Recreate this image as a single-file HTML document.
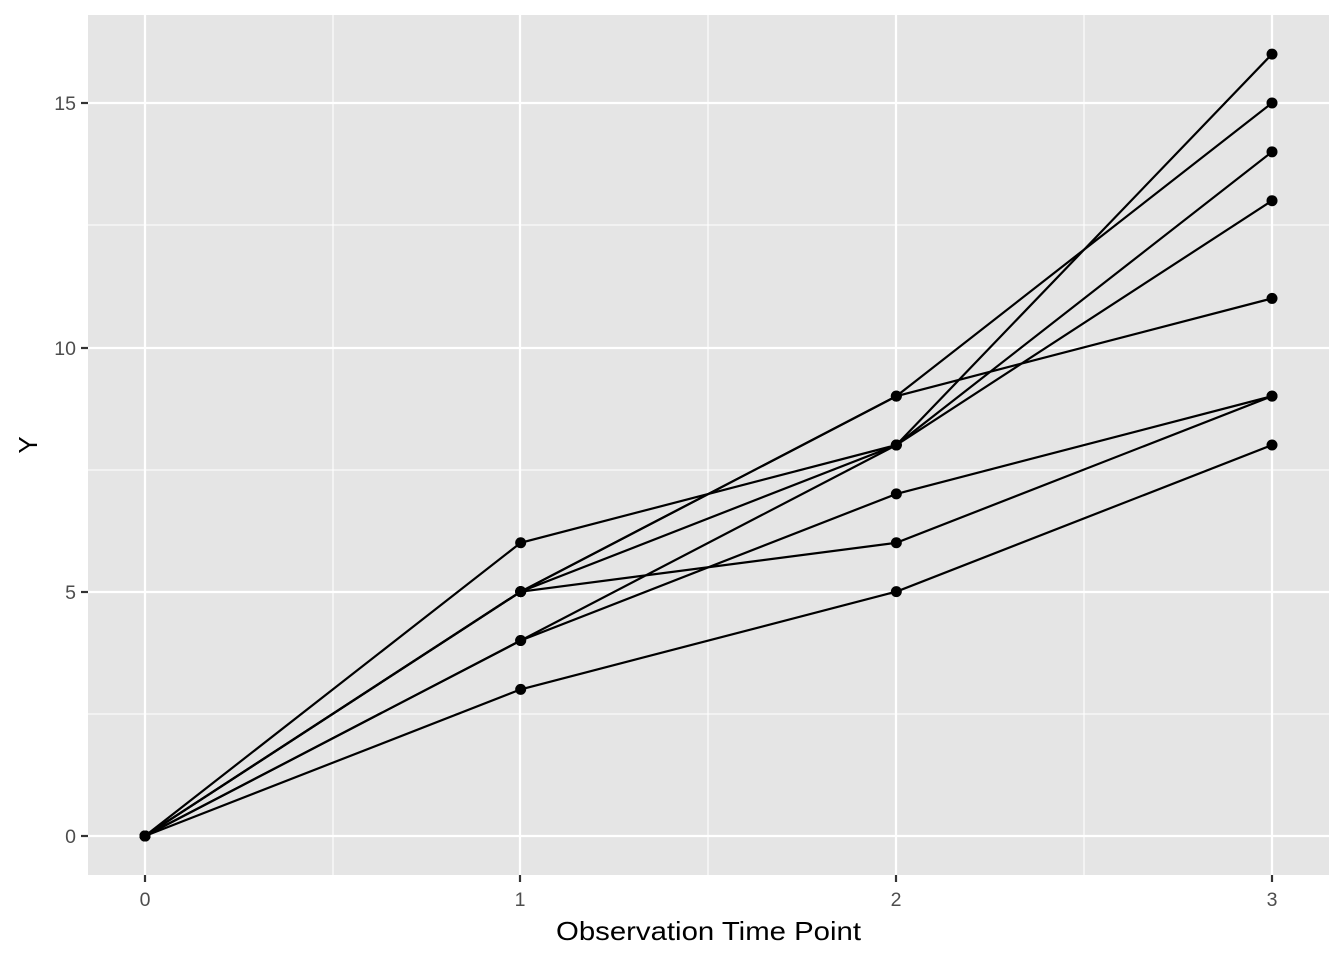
<!DOCTYPE html><html><head><style>body{margin:0;background:#fff}</style></head><body>
<svg width="1344" height="960" xmlns="http://www.w3.org/2000/svg" font-family="Liberation Sans, sans-serif">
<rect x="88" y="15" width="1241" height="860" fill="#E5E5E5"/>
<g stroke="#fff" stroke-width="1.1">
<line x1="333" y1="15" x2="333" y2="875"/><line x1="708" y1="15" x2="708" y2="875"/><line x1="1084" y1="15" x2="1084" y2="875"/>
<line x1="88" y1="714" x2="1329" y2="714"/><line x1="88" y1="470" x2="1329" y2="470"/><line x1="88" y1="225" x2="1329" y2="225"/>
</g>
<g stroke="#fff" stroke-width="2.2">
<line x1="145" y1="15" x2="145" y2="875"/><line x1="520" y1="15" x2="520" y2="875"/><line x1="896" y1="15" x2="896" y2="875"/><line x1="1272" y1="15" x2="1272" y2="875"/>
<line x1="88" y1="836" x2="1329" y2="836"/><line x1="88" y1="592" x2="1329" y2="592"/><line x1="88" y1="348" x2="1329" y2="348"/><line x1="88" y1="103" x2="1329" y2="103"/>
</g>
<g stroke="#333" stroke-width="2.2">
<line x1="81" y1="836" x2="88" y2="836"/><line x1="81" y1="592" x2="88" y2="592"/><line x1="81" y1="348" x2="88" y2="348"/><line x1="81" y1="103" x2="88" y2="103"/>
<line x1="145" y1="875" x2="145" y2="882"/><line x1="520" y1="875" x2="520" y2="882"/><line x1="896" y1="875" x2="896" y2="882"/><line x1="1272" y1="875" x2="1272" y2="882"/>
</g>
<g fill="#4D4D4D" font-size="19.5">
<g text-anchor="end"><text x="76" y="843">0</text><text x="76" y="599">5</text><text x="76" y="355">10</text><text x="76" y="110">15</text></g>
<g text-anchor="middle"><text x="145" y="906">0</text><text x="520" y="906">1</text><text x="896" y="906">2</text><text x="1272" y="906">3</text></g>
</g>
<text x="556" y="940" font-size="26" fill="#000" textLength="305" lengthAdjust="spacingAndGlyphs">Observation Time Point</text>
<text transform="translate(37,445) rotate(-90)" text-anchor="middle" font-size="26" fill="#000">Y</text>
<g fill="none" stroke="#000" stroke-width="2.2" id="lines"></g>
<g fill="#000" id="pts"></g>
<script>
var S=[[0,6,8,16],[0,5,9,15],[0,5,9,11],[0,5,6,9],[0,5,8,14],[0,4,8,13],[0,4,7,9],[0,3,5,8]];
var L=document.getElementById('lines'),P=document.getElementById('pts'),ns='http://www.w3.org/2000/svg';
function X(t){return 145+t*375.67}function Y(v){return 836-v*48.87}
S.forEach(function(s){var pl=document.createElementNS(ns,'polyline');pl.setAttribute('points',s.map(function(v,i){return X(i)+','+Y(v)}).join(' '));L.appendChild(pl);
s.forEach(function(v,i){var c=document.createElementNS(ns,'circle');c.setAttribute('cx',X(i));c.setAttribute('cy',Y(v));c.setAttribute('r',5.5);P.appendChild(c);});});
</script>
</svg></body></html>
